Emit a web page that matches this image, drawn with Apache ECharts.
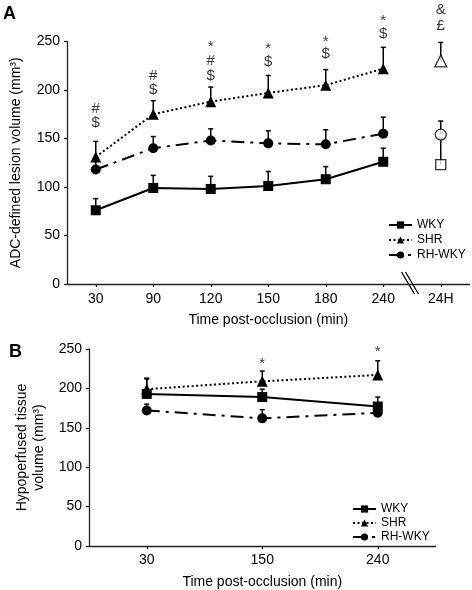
<!DOCTYPE html>
<html>
<head>
<meta charset="utf-8">
<script src="https://cdn.jsdelivr.net/npm/echarts@6/dist/echarts.min.js"></script>
<style>
html,body{margin:0;padding:0;background:#fff;}
#c{width:472px;height:590px;}
</style>
</head>
<body>
<div id="c"></div>
<script>
// ---------- Panel A data ----------
const catA = ['30', '90', '120', '150', '180', '240', '24H'];
const wkyA = [76, 99, 98, 101, 108, 126];
const wkyAErr = [88, 112, 111, 116, 121, 140];
const shrA = [131, 175, 188, 197, 205, 222];
const shrAErr = [147, 189, 203, 215, 221, 244];
const rhA = [118, 140, 148, 145, 144, 155];
const rhAErr = [128, 152, 160, 158, 159, 172];
// 24H values (open symbols)
const wky24 = 123, wky24Err = 150;
const shr24 = 230, shr24Err = 249;
const rh24 = 154, rh24Err = 168;
const annotA = [
  [0, 181, '#'], [0, 166, '$'],
  [1, 215, '#'], [1, 200, '$'],
  [2, 244, '*'], [2, 230, '#'], [2, 215, '$'],
  [3, 242, '*'], [3, 229, '$'],
  [4, 250, '*'], [4, 237, '$'],
  [5, 271, '*'], [5, 258, '$'],
  [6, 283, '&'], [6, 266, '£']
];
// ---------- Panel B data ----------
const catB = ['30', '150', '240'];
const wkyB = [193, 189, 177];
const wkyBErr = [212, 199, 189];
const shrB = [199, 209, 217];
const shrBErr = [213, 222, 235];
const rhB = [172, 162, 169];
const rhBErr = [180, 173, 171];
const annotB = [[1, 231, '*'], [2, 247, '*']];
const yTicks = [0, 50, 100, 150, 200, 250];

const FONT = 'Liberation Sans, Arial, Helvetica, sans-serif';
const chart = echarts.init(document.getElementById('c'));

function errData(vals, errs, offset) {
  return vals.map((v, i) => [i + (offset || 0), v, errs[i]]);
}
function errSeries(data, xi, yi) {
  return {
    type: 'custom', xAxisIndex: xi, yAxisIndex: yi, z: 1, silent: true,
    encode: { x: 0, y: [1, 2] },
    data: data,
    renderItem: function (params, api) {
      const x = api.value(0), lo = api.value(1), hi = api.value(2);
      const p1 = api.coord([x, lo]);
      const p2 = api.coord([x, hi]);
      return {
        type: 'group', children: [
          { type: 'line', shape: { x1: p1[0], y1: p1[1], x2: p2[0], y2: p2[1] }, style: { stroke: '#000', lineWidth: 1.5 } },
          { type: 'line', shape: { x1: p2[0] - 2.5, y1: p2[1], x2: p2[0] + 2.5, y2: p2[1] }, style: { stroke: '#000', lineWidth: 1.5 } }
        ]
      };
    }
  };
}
const styles = {
  'WKY': { symbol: 'rect', size: 10, type: 'solid' },
  'SHR': { symbol: 'triangle', size: 11, type: [2, 2.5] },
  'RH-WKY': { symbol: 'circle', size: 10, type: [13, 6, 3, 6] }
};
function lineSeries(name, data, xi, yi) {
  const s = styles[name];
  return {
    name: name, type: 'line', xAxisIndex: xi, yAxisIndex: yi, z: 3,
    data: data, symbol: s.symbol, symbolSize: s.size,
    lineStyle: { color: '#000', width: 2, type: s.type },
    itemStyle: { color: '#000', borderWidth: 0 },
    emphasis: { disabled: true }, animation: false
  };
}
function annotSeries(data, xi, yi) {
  return {
    type: 'scatter', xAxisIndex: xi, yAxisIndex: yi, z: 5, clip: false, silent: true,
    data: data, symbolSize: 1, itemStyle: { color: 'rgba(0,0,0,0)' },
    label: {
      show: true, position: 'inside', color: '#000', fontSize: 15, fontFamily: FONT,
      formatter: p => p.data[2]
    }
  };
}
function yAxis(gi, name, nameGap) {
  return {
    type: 'value', gridIndex: gi, min: 0, max: 250, interval: 50,
    name: name, nameLocation: 'middle', nameGap: nameGap, nameRotate: 90,
    nameTextStyle: { fontSize: 14, color: '#000', fontFamily: FONT, lineHeight: 17 },
    axisLine: { show: true, lineStyle: { color: '#222', width: 1.3 } },
    axisTick: { show: true, length: 3, lineStyle: { color: '#222', width: 1.3 } },
    axisLabel: { fontSize: 14, color: '#000', fontFamily: FONT, margin: 7, formatter: v => yTicks.indexOf(v) >= 0 ? String(v) : '' },
    splitLine: { show: false }
  };
}
function xAxis(gi, cats, margin) {
  return {
    type: 'category', gridIndex: gi, data: cats, boundaryGap: true,
    name: 'Time post-occlusion (min)', nameLocation: 'middle', nameGap: 29,
    nameTextStyle: { fontSize: 14, color: '#000', fontFamily: FONT },
    axisLine: { show: true, lineStyle: { color: '#222', width: 1.3 } },
    axisTick: { show: true, alignWithLabel: true, length: 3, lineStyle: { color: '#222', width: 1.3 } },
    axisLabel: { fontSize: 14, color: '#000', fontFamily: FONT, margin: margin, interval: 0 },
    splitLine: { show: false }
  };
}
function legend(left, top, w, gap) {
  return {
    orient: 'vertical', left: left, top: top, itemWidth: w, itemHeight: 9, itemGap: gap,
    padding: 0,
    data: ['WKY', 'SHR', 'RH-WKY'], selectedMode: false,
    textStyle: { fontSize: 12, color: '#000', fontFamily: FONT, lineHeight: 12, padding: [0, 0, 0, 0] }
  };
}

const option = {
  animation: false,
  backgroundColor: '#fff',
  textStyle: { fontFamily: FONT },
  grid: [
    { left: 63, top: 41.5, width: 406.5, height: 242.5 },
    { left: 89, top: 349, width: 346.5, height: 197.5 }
  ],
  xAxis: [xAxis(0, catA, 8), xAxis(1, catB, 7)],
  yAxis: [
    yAxis(0, 'ADC-defined lesion volume (mm³)', 42),
    yAxis(1, 'Hypoperfused tissue\nvolume (mm³)', 37)
  ],
  legend: [legend(388, 219, 23, 3), legend(352, 503, 23, 2)],
  title: [
    { text: 'A', left: 3, top: 5, padding: 0, textStyle: { fontSize: 18, fontWeight: 'bold', color: '#000', fontFamily: FONT } },
    { text: 'B', left: 9, top: 343, padding: 0, textStyle: { fontSize: 18, fontWeight: 'bold', color: '#000', fontFamily: FONT } }
  ],
  series: [
    errSeries(errData(wkyA, wkyAErr), 0, 0),
    errSeries(errData(shrA, shrAErr), 0, 0),
    errSeries(errData(rhA, rhAErr), 0, 0),
    errSeries([[6, wky24, wky24Err], [6, shr24, shr24Err], [6, rh24, rh24Err]], 0, 0),
    lineSeries('WKY', wkyA, 0, 0),
    lineSeries('SHR', shrA, 0, 0),
    lineSeries('RH-WKY', rhA, 0, 0),
    {
      type: 'scatter', xAxisIndex: 0, yAxisIndex: 0, z: 4, silent: true,
      data: [
        { value: [6, wky24], symbol: 'rect', symbolSize: 10 },
        { value: [6, shr24], symbol: 'triangle', symbolSize: 12 },
        { value: [6, rh24], symbol: 'circle', symbolSize: 11 }
      ],
      itemStyle: { color: '#fff', borderColor: '#000', borderWidth: 1.3 }
    },
    annotSeries(annotA, 0, 0),
    errSeries(errData(wkyB, wkyBErr), 1, 1),
    errSeries(errData(shrB, shrBErr), 1, 1),
    errSeries(errData(rhB, rhBErr), 1, 1),
    lineSeries('SHR', shrB, 1, 1),
    lineSeries('RH-WKY', rhB, 1, 1),
    lineSeries('WKY', wkyB, 1, 1),
    annotSeries(annotB, 1, 1)
  ]
};
chart.setOption(option);

// axis break marks between 240 and 24H
const p5 = chart.convertToPixel({ xAxisIndex: 0, yAxisIndex: 0 }, [5, 0]);
const p6 = chart.convertToPixel({ xAxisIndex: 0, yAxisIndex: 0 }, [6, 0]);
const mx = (p5[0] + p6[0]) / 2 - 2.5, my = p5[1];
chart.setOption({
  graphic: [
    { type: 'line', shape: { x1: mx - 8, y1: my - 12, x2: mx + 5, y2: my + 10 }, style: { stroke: '#000', lineWidth: 1.3 } },
    { type: 'line', shape: { x1: mx - 4, y1: my - 12, x2: mx + 9, y2: my + 10 }, style: { stroke: '#000', lineWidth: 1.3 } }
  ]
});
</script>
</body>
</html>
